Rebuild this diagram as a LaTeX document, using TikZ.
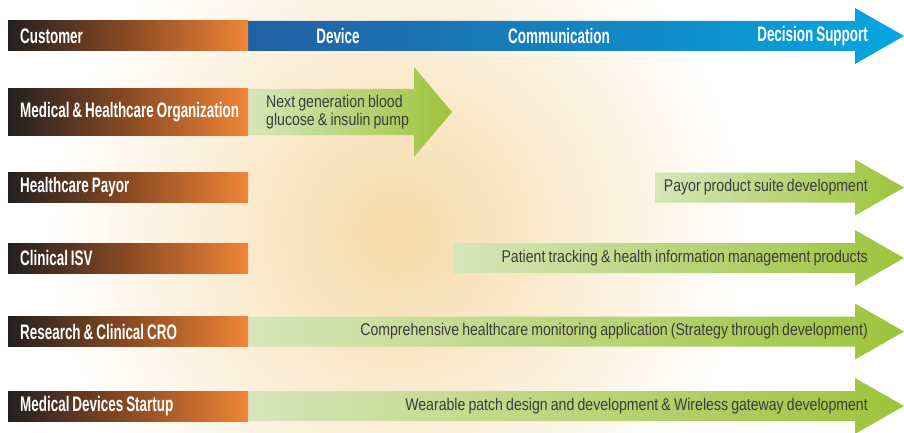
\documentclass[tikz,border=0pt]{standalone}
\usepackage{fontspec}
\setmainfont{Liberation Sans}
\newfontfamily\headfont[FakeStretch=0.64,WordSpace=0.8]{Liberation Sans}
\newfontfamily\bodyfont[FakeStretch=0.83,WordSpace=0.8]{Liberation Sans}
\definecolor{barDark}{HTML}{231F20}
\definecolor{barBrown}{HTML}{8A4A22}
\definecolor{barOrange}{HTML}{F08537}
\definecolor{headBlue}{HTML}{2360A3}
\definecolor{headCyan}{HTML}{05A7E0}
\definecolor{greenLight}{HTML}{D5E6B9}
\definecolor{greenDark}{HTML}{9DC43C}
\definecolor{glowPeach}{HTML}{F6DAA8}
\definecolor{txtGray}{HTML}{3C3C3C}
\tikzset{
   custbar/.style={left color=barDark,right color=barOrange,middle color=barBrown,
      anchor=west,minimum height=30pt,text width=216pt,inner xsep=12pt,inner ysep=0pt,
      align=flush left,text=white,font=\headfont\bfseries\fontsize{21}{22}\selectfont},
   headtext/.style={text=white,inner sep=0pt,font=\headfont\bfseries\fontsize{21}{22}\selectfont},
   greenarrow/.style={left color=greenLight,right color=greenDark},
   plantext/.style={text=txtGray,inner sep=0pt,font=\bodyfont\fontsize{17}{18.5}\selectfont}
}

\begin{document}
\begin{tikzpicture}[x=1pt,y=-1pt]
   \useasboundingbox (0,0) rectangle (904,433);
   \begin{scope}
      \clip (0,0) rectangle (904,433);
      \shade[inner color=glowPeach,outer color=white] (397,233) circle (350pt);
   \end{scope}
   \shade[left color=headBlue,right color=headCyan] (248,21) -- (855,21) -- (855,8)
   -- (904,36) -- (855,64) -- (855,51) -- (248,51) -- cycle;
   \node[custbar] (cust) at (8,36) {Customer};
   \node[headtext] (device) at (338,36) {Device};
   \node[headtext] (comm) at (559,36) {Communication};
   \node[headtext,anchor=east] (decision) at (868,36) {Decision Support};
   \shade[greenarrow] (248,89) -- (414,89) -- (414,67) -- (452,112) -- (414,157)
   -- (414,135) -- (248,135) -- cycle;
   \foreach \yc/\xs in {187.5/655,258/453,331.5/248,406/248}
      \shade[greenarrow] (\xs,\yc-15) -- (855,\yc-15) -- (855,\yc-28) -- (904,\yc)
      -- (855,\yc+28) -- (855,\yc+15) -- (\xs,\yc+15) -- cycle;
   \node[custbar,minimum height=46pt] (medorg) at (8,112)
   {\mbox{Medical \& Healthcare Organization}};
   \node[custbar] (payor) at (8,187.5) {Healthcare Payor};
   \node[custbar] (isv) at (8,258) {Clinical ISV};
   \node[custbar] (cro) at (8,331.5) {Research \& Clinical CRO};
   \node[custbar] (startup) at (8,406) {Medical Devices Startup};
   \node[plantext,anchor=west,align=left] (pump) at (266,112)
   {Next generation blood\\glucose \& insulin pump};
   \node[plantext,anchor=east] (suite) at (868,187.5) {Payor product suite development};
   \node[plantext,anchor=east] (tracking) at (868,258)
   {Patient tracking \& health information management products};
   \node[plantext,anchor=east] (monitor) at (868,331.5)
   {Comprehensive healthcare monitoring application (Strategy through development)};
   \node[plantext,anchor=east] (patch) at (868,406)
   {Wearable patch design and development \& Wireless gateway development};
\end{tikzpicture}
\end{document}
